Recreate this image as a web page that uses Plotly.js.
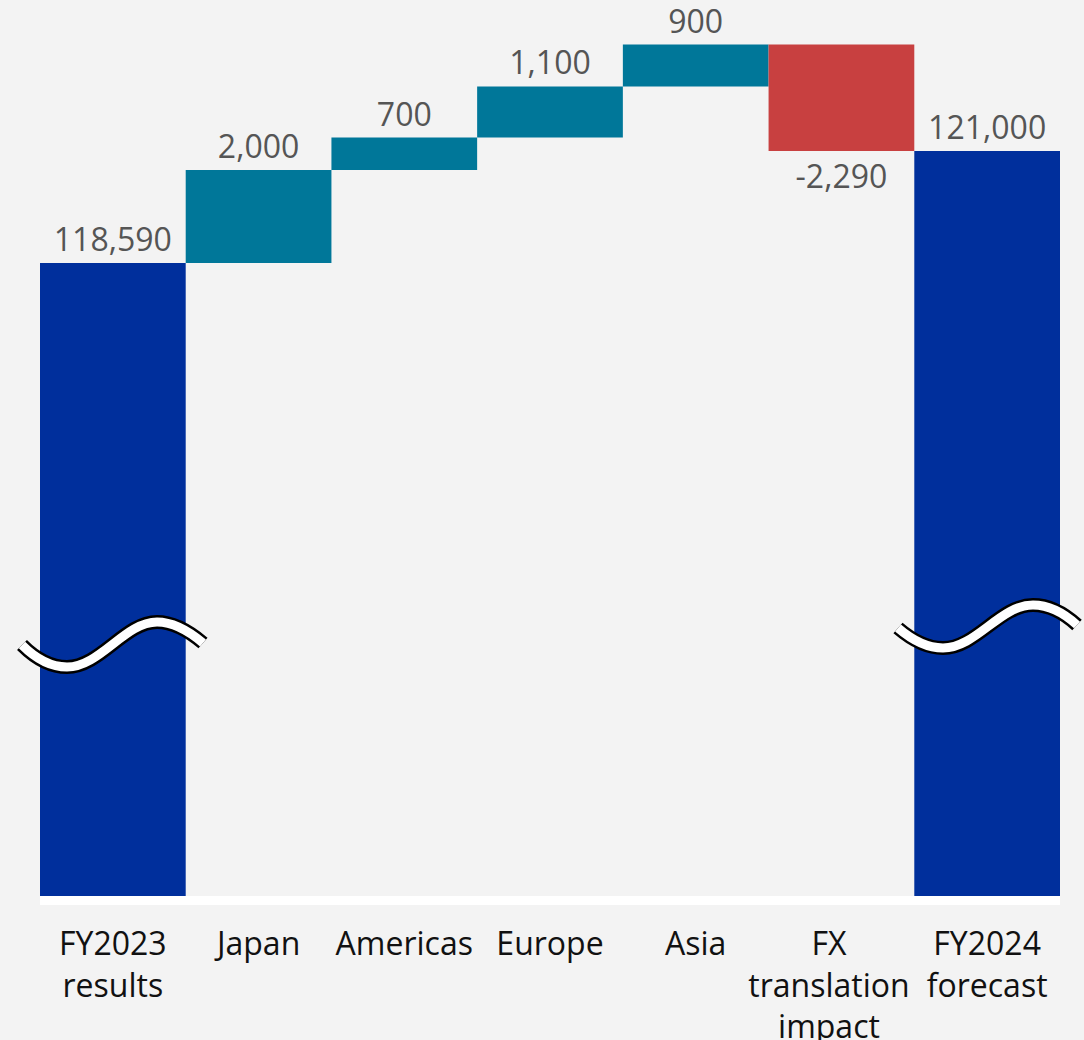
<!DOCTYPE html>
<html>
<head>
<meta charset="utf-8">
<script src="https://cdn.plot.ly/plotly-3.0.1.min.js"></script>
<style>
html,body{margin:0;padding:0;background:#f3f3f3;}
#chart{width:1084px;height:1040px;}
</style>
</head>
<body>
<div id="chart"></div>
<script>
// Data
const categories = ["FY2023<br>results", "Japan", "Americas", "Europe", "Asia", "FX\u00a0\u00a0\u00a0<br>translation\u00a0\u00a0\u00a0<br>impact\u00a0\u00a0\u00a0", "FY2024<br>forecast"];
const measures = ["absolute", "relative", "relative", "relative", "relative", "relative", "total"];
const values = [118590, 2000, 700, 1100, 900, -2290, 121000];
const valueLabels = values.map(v => (v < 0 ? "-" : "") + Math.abs(v).toLocaleString("en-US"));

// Layout helpers (pixel -> paper) for the axis-break decorations
const W = 1084, H = 1040, ML = 40, MR = 24, MT = 0, MB = 144;
const PW = W - ML - MR, PH = H - MT - MB;
const px = x => ((x - ML) / PW).toFixed(5);
const py = y => ((H - MB - y) / PH).toFixed(5);
function wavePath(pts) {
  let d = "M " + px(pts[0][0]) + "," + py(pts[0][1]);
  for (let i = 1; i < pts.length; i += 3) {
    d += " C " + [pts[i], pts[i + 1], pts[i + 2]].map(p => px(p[0]) + "," + py(p[1])).join(" ");
  }
  return d;
}
const leftWave = wavePath([[22,645],[35,658],[50,667],[67,667],[100,667],[125,622],[157,622],[175,622],[190,632],[203,643]]);
const rightWave = wavePath([[898,628],[912,640],[926,648],[943,648],[976,648],[1000,605],[1033,605],[1050,605],[1065,614],[1077,625]]);

function waveShapes(path) {
  return [
    {type: "path", xref: "paper", yref: "paper", path: path, line: {color: "#000000", width: 14}, layer: "above"},
    {type: "path", xref: "paper", yref: "paper", path: path, line: {color: "#ffffff", width: 9}, layer: "above"}
  ];
}

const trace = {
  type: "waterfall",
  x: categories,
  y: values,
  measure: measures,
  text: valueLabels,
  textinfo: "text",
  textposition: "outside",
  cliponaxis: false,
  textfont: {family: "Open Sans, Noto Sans, sans-serif", size: 32, color: "#555555"},
  connector: {visible: false},
  increasing: {marker: {color: "#007799"}},
  decreasing: {marker: {color: "#c84040"}},
  totals: {marker: {color: "#002f9c"}},
  hoverinfo: "skip"
};

const layout = {
  width: W, height: H,
  margin: {l: ML, r: MR, t: MT, b: MB},
  paper_bgcolor: "#f3f3f3",
  plot_bgcolor: "#f3f3f3",
  showlegend: false,
  waterfallgap: 0,
  xaxis: {
    type: "category",
    showgrid: false, zeroline: false, showline: false,
    ticks: "",
    tickangle: 0,
    tickfont: {family: "Open Sans, Noto Sans, sans-serif", size: 32, color: "#111111"},
    ticklabelstandoff: 26
  },
  yaxis: {
    range: [104970, 124250],
    showgrid: false, zeroline: false, showline: false,
    showticklabels: false, ticks: ""
  },
  shapes: [
    {type: "rect", xref: "paper", yref: "paper", x0: 0, x1: 1, y0: 0, y1: -9 / PH, fillcolor: "#ffffff", line: {width: 0}, layer: "above"}
  ].concat(waveShapes(leftWave), waveShapes(rightWave))
};

Plotly.newPlot("chart", [trace], layout, {displayModeBar: false, staticPlot: true});
</script>
</body>
</html>
